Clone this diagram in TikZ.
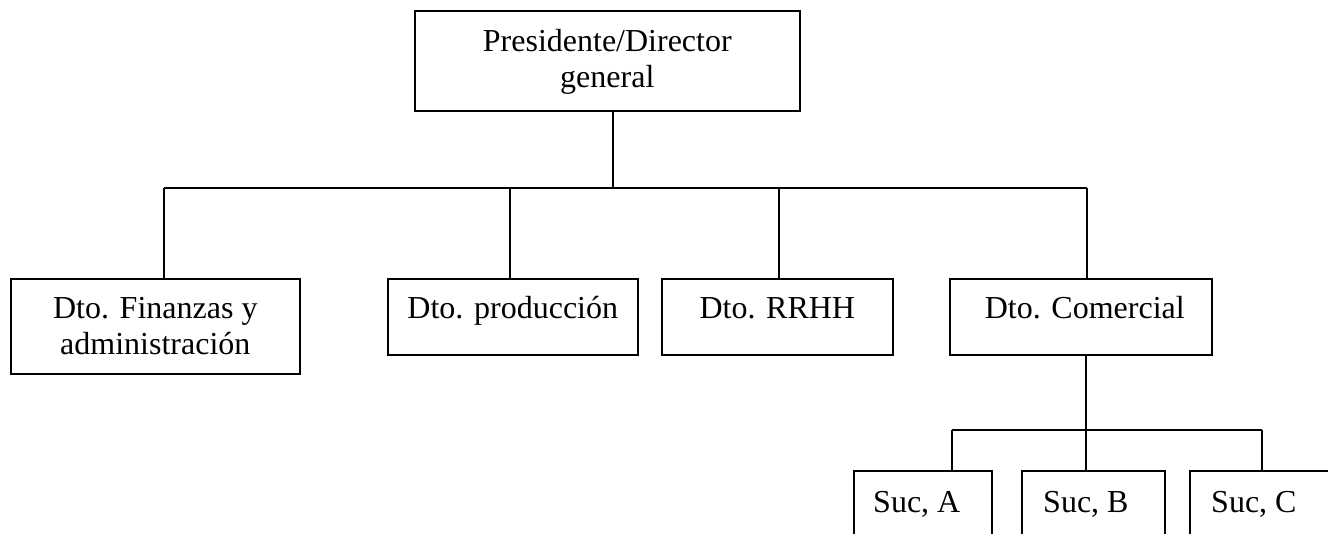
\documentclass[tikz,border=0pt]{standalone}
\usepackage{fontspec}
\setmainfont{Liberation Serif}
\usetikzlibrary{calc}
\begin{document}
\begin{tikzpicture}[x=1pt,y=-1pt,
  box/.style={draw, line width=1.6pt, anchor=north west, inner sep=0pt},
  link/.style={line width=1.3pt},
  lbl/.style={anchor=base, inner sep=0pt, font=\fontsize{32}{36}\selectfont},
  lblw/.style={lbl, anchor=base west}]
\useasboundingbox (0,0) rectangle (1328,533);
\clip (0,0) rectangle (1328,533);

% top level
\node[box, minimum width=385pt, minimum height=100pt] (pres) at (414,10) {};
\node[lbl] (presT) at ($(pres.north)+(0,41)$)
  {\parbox[t]{320pt}{\centering Presidente/Director\\general}};

% departments
\node[box, minimum width=289pt, minimum height=95pt] (fin) at (10,278) {};
\node[lbl] (finT) at ($(fin.north)+(0,40)$)
  {\parbox[t]{280pt}{\centering Dto. Finanzas y\\administración}};

\node[box, minimum width=250pt, minimum height=76pt] (prod) at (387,278) {};
\node[lbl] (prodT) at ($(prod.north)+(0,40)$) {Dto. producción};

\node[box, minimum width=231pt, minimum height=76pt] (rrhh) at (661,278) {};
\node[lbl] (rrhhT) at ($(rrhh.north)+(0,40)$) {Dto. RRHH};

\node[box, minimum width=262pt, minimum height=76pt] (com) at (949,278) {};
\node[lbl] (comT) at ($(com.north)+(4,40)$) {Dto. Comercial};

% branches
\node[box, minimum width=138pt, minimum height=90pt] (sucA) at (853,470) {};
\node[lblw] (sucAT) at ($(sucA.north west)+(20,42)$) {Suc, A};
\node[box, minimum width=143pt, minimum height=90pt] (sucB) at (1021,470) {};
\node[lblw] (sucBT) at ($(sucB.north west)+(22,42)$) {Suc, B};
\node[box, minimum width=160pt, minimum height=90pt] (sucC) at (1189,470) {};
\node[lblw] (sucCT) at ($(sucC.north west)+(22,42)$) {Suc, C};

% first-level bus
\coordinate (j0) at (613,188);
\coordinate (tF) at (164,188);
\coordinate (tP) at (510,188);
\coordinate (tR) at (779,188);
\coordinate (tC) at (1087,188);
\draw[link] (pres.south -| j0) -- (j0);
\draw[link] (tF) -- (tC);
\draw[link] (tF) -- (tF |- fin.north);
\draw[link] (tP) -- (tP |- prod.north);
\draw[link] (tR) -- (tR |- rrhh.north);
\draw[link] (tC) -- (tC |- com.north);

% branch bus
\coordinate (sA) at (952,430);
\coordinate (sB) at (1086,430);
\coordinate (sC) at (1262,430);
\draw[link] (com.south -| sB) -- (sB);
\draw[link] (sA) -- (sC);
\draw[link] (sA) -- (sA |- sucA.north);
\draw[link] (sB) -- (sB |- sucB.north);
\draw[link] (sC) -- (sC |- sucC.north);
\end{tikzpicture}
\end{document}
